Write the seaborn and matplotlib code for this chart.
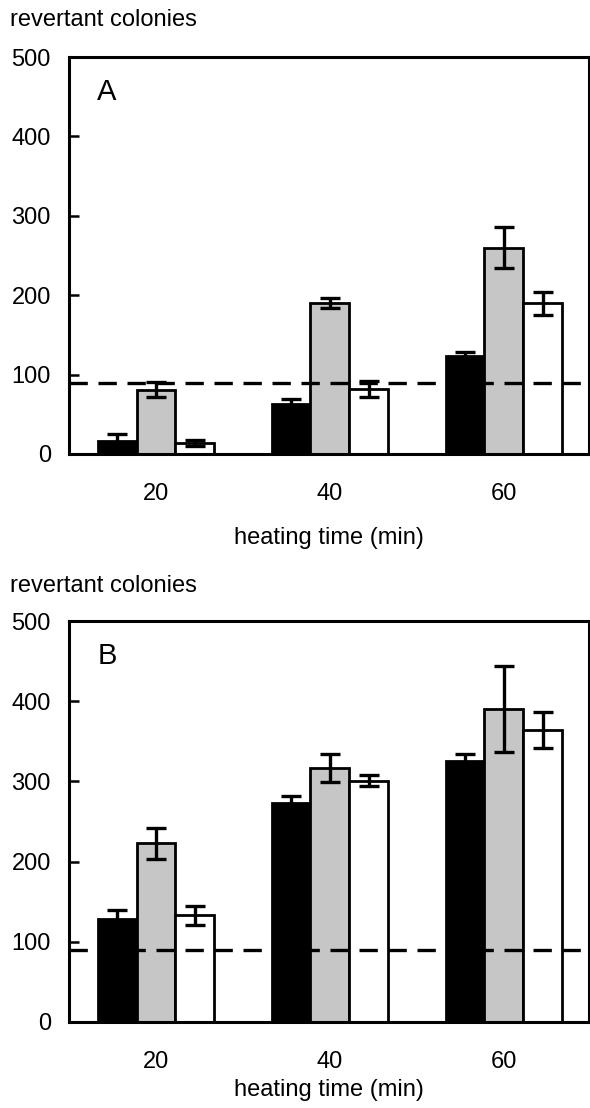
import matplotlib
matplotlib.use("Agg")
import matplotlib.pyplot as plt
import seaborn as sns
import pandas as pd
import numpy as np

# ---- data ----
times = ["20", "40", "60"]
series = ["s1", "s2", "s3"]
colors = ["#000000", "#c6c6c6", "#ffffff"]

a_s1 = [17, 63, 124]
a_s2 = [81, 190, 260]
a_s3 = [14, 82, 190]
a_s1_err = [8, 6, 4]
a_s2_err = [9.5, 6, 26]
a_s3_err = [4, 10, 14.5]

b_s1 = [129, 273, 326]
b_s2 = [223, 317, 390]
b_s3 = [133, 301, 364]
b_s1_err = [11, 9, 8.5]
b_s2_err = [19.5, 17.5, 53.5]
b_s3_err = [11.5, 7, 22]

baseline = 90
yticks = [0, 100, 200, 300, 400, 500]
ylabel = "revertant colonies"
xlabel = "heating time (min)"
panel_labels = ["A", "B"]

sns.set_style("white")
plt.rcParams['font.family'] = ['Liberation Sans', 'DejaVu Sans']
plt.rcParams['text.color'] = 'black'
plt.rcParams['axes.labelcolor'] = 'black'
plt.rcParams['xtick.color'] = 'black'
plt.rcParams['ytick.color'] = 'black'

fig = plt.figure(figsize=(5.9, 11.08), dpi=100)
W, H = 590, 1108
axA = fig.add_axes([69 / W, 1 - 454 / H, 520 / W, 397 / H])
axB = fig.add_axes([69 / W, 1 - 1022 / H, 520 / W, 401 / H])


def draw(ax, vals, errs, label, ylab_y, lpad):
    rows = []
    for s, v in zip(series, vals):
        for t, val in zip(times, v):
            rows.append({"time": t, "series": s, "value": val})
    df = pd.DataFrame(rows)
    sns.barplot(data=df, x="time", y="value", hue="series", order=times,
                hue_order=series, palette=colors, width=0.67,
                edgecolor="black", linewidth=2.0, errorbar=None,
                legend=False, ax=ax, saturation=1)
    for cont, e in zip(ax.containers, errs):
        xs = [p.get_x() + p.get_width() / 2 for p in cont.patches]
        hs = [p.get_height() for p in cont.patches]
        ax.errorbar(xs, hs, yerr=e, fmt="none", ecolor="black",
                    elinewidth=2.4, capsize=7.5, capthick=2.4, zorder=4)
    ax.axhline(baseline, color="black", lw=2.4, ls=(0, (5.5, 3.2)), zorder=5)
    ax.set_ylim(0, 500)
    ax.set_xlim(-0.5, 2.49)
    ax.set_yticks(yticks)
    ax.tick_params(axis="y", direction="in", length=7, width=1.8,
                   labelsize=17, pad=13, left=True, colors="black")
    ax.tick_params(axis="x", length=0, labelsize=17, pad=21, colors="black")
    ax.set_ylabel("")
    ax.set_xlabel(xlabel, fontsize=17, labelpad=lpad, color="black")
    for sp in ax.spines.values():
        sp.set_visible(True)
        sp.set_linewidth(2.2)
        sp.set_color("black")
    ax.text(0.073, 0.912, label, transform=ax.transAxes, fontsize=21,
            ha="center", va="center", color="black")
    fig.text(10 / W, 1 - ylab_y / H, ylabel, fontsize=17, ha="left",
             va="center", color="black")


draw(axA, [a_s1, a_s2, a_s3], [a_s1_err, a_s2_err, a_s3_err], panel_labels[0], 20, 16)
draw(axB, [b_s1, b_s2, b_s3], [b_s1_err, b_s2_err, b_s3_err], panel_labels[1], 586, 4)

fig.savefig("out.png", dpi=100)
